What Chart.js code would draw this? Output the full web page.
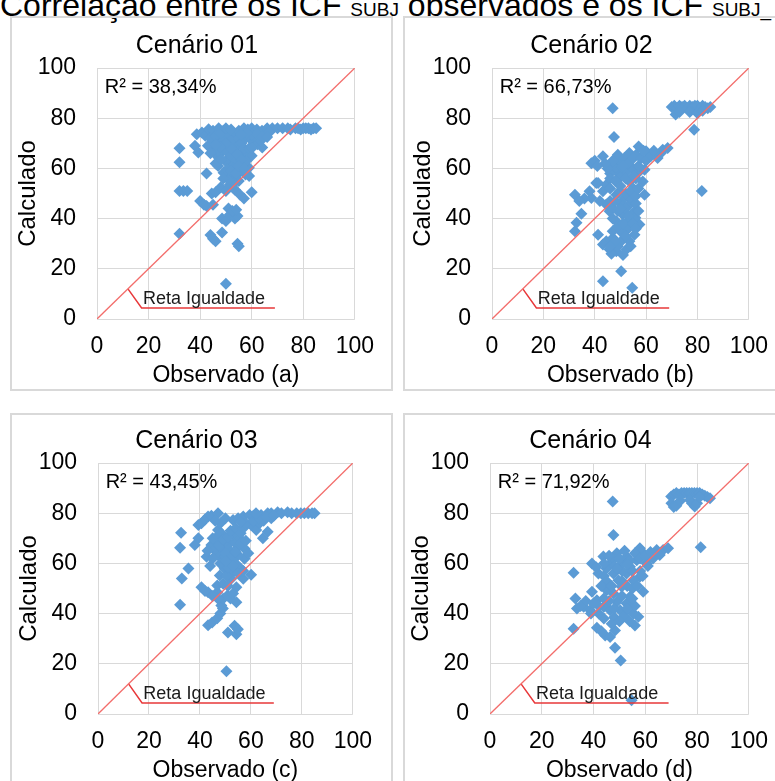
<!DOCTYPE html>
<html><head><meta charset="utf-8">
<script src="https://cdn.jsdelivr.net/npm/chart.js@4/dist/chart.umd.min.js"></script>
<style>
html,body{margin:0;padding:0;background:#fff;overflow:hidden;width:775px;height:781px;}
body{position:relative;font-family:"Liberation Sans",Arial,sans-serif;}
#title{position:absolute;left:0;top:-11px;font-size:32px;line-height:32px;white-space:pre;color:#000;}
#title .sub{font-size:19px;line-height:1;}
.box{position:absolute;border:2px solid #d9d9d9;box-sizing:border-box;}
canvas{position:absolute;}
</style></head><body>
<div id="title">Correlação entre os ICF <span class="sub">SUBJ</span> observados e os ICF <span class="sub">SUBJ_</span></div>
<div class="box" style="left:10px;top:16px;width:383px;height:375px;"></div>
<div class="box" style="left:403px;top:16px;width:390px;height:375px;"></div>
<div class="box" style="left:10px;top:413px;width:383px;height:400px;"></div>
<div class="box" style="left:403px;top:413px;width:390px;height:400px;"></div>
<script>
// ---- data (Observado, Calculado) ----
const tickLabels = ['0','20','40','60','80','100'];
const titles = ['Cenário 01','Cenário 02','Cenário 03','Cenário 04'];
const xTitles = ['Observado (a)','Observado (b)','Observado (c)','Observado (d)'];
const r2Labels = ['R² = 38,34%','R² = 66,73%','R² = 43,45%','R² = 71,92%'];
const equalityLine = [[0,0],[100,100]];
const labelLeader = [[12,12],[17.3,4.4],[69,4.4]];
const labelText = 'Reta Igualdade';
const labelPos = [17.8,6];
const r2Pos = [3,90];

const cenario1 = [[50,14],[32,34],[54.5,30],[55,29],[44,33.5],[45,32],[46,31],[48.5,34.5],[48.5,40],[50,39],[51.5,41.5],[53.5,40],[54.5,41],[51,44],[52.5,43],[54,43.5],[32,51],[33.5,51],[35,51],[40,47],[41.5,45.5],[42.5,45],[45,45.5],[44.5,50],[46,50.5],[48,52.5],[50,51],[51.5,53.5],[53,52],[53.5,51.5],[55.5,49.5],[57,48],[60,50.5],[32,68],[32,62.5],[42.5,58],[38,69],[39.3,66.3],[38.7,73.6],[40.7,74.3],[42,73],[43.3,75.6],[45,75],[47.2,76],[49,75],[50.5,74],[53,73.5],[55,75],[57,76],[58.5,75.5],[60,76],[62,75.5],[64,75],[66,76],[68,76],[70,76],[72,76],[74,76],[75,75.5],[77,76],[78,76],[79,75.5],[80,76],[81,76],[82,76],[83,75.5],[84,76],[85,76],[65.5,74],[67,74.5],[44.6,68.3],[47.2,70.3],[49.8,72.3],[51.7,69.6],[53.7,68.3],[55.6,65.6],[57.6,63.6],[58.9,60.3],[57.6,57.6],[55,58.3],[52.4,61.6],[49.8,62.9],[47.2,64.3],[45.9,65.6],[50.4,59.6],[51.7,57.6],[53.7,56.9],[49.1,58.3],[46,67],[48,66],[50,67],[52,65],[54,63],[56,61],[48,71],[45,71],[43,69],[47,61],[53,60],[55,55],[56.5,59],[58,66],[54,71],[51.5,73],[60.2,70.9],[62.2,69.6],[64.1,68.3],[62.8,72.3],[58.9,72.9],[57.9,72.3],[61,73],[63.5,71],[44,72],[46,73],[48,74],[52,71],[55,72],[56,70],[57,68],[59,68],[60,65],[58,63],[56,63.5],[54,66],[52,68],[50,70],[48,68.5],[46,69.5],[44,66],[46,62],[48,63.5],[52,59],[54,58],[55,61],[57,60],[59,57],[53,54],[51,55.5],[49,56],[60,73.5],[62,74],[64,72.5],[66,72.5],[60,68],[58,74],[56,73.5],[50,76],[52,75.5]];

const cenario2 = [[47,84],[47.5,72.5],[70,84.5],[71,85],[72,84],[73,85],[74,84.5],[75,85],[76,84],[77,85],[78,84.5],[79,85],[80,85],[81,84],[82,85],[83,84.5],[84,84],[85,84.5],[71.5,81.5],[73,82.5],[77,82.5],[80,82],[82,83],[78.7,75.4],[81.7,51],[50.3,19],[43.2,15],[54.6,12.5],[45.8,27.7],[48.4,27],[52.3,27.7],[44.5,31],[47.1,32.3],[50.3,31],[53.5,31],[55.5,33.6],[41.3,33.6],[43.2,29.7],[46.5,26],[49,29],[32.3,35],[32.9,38.3],[34.8,41.9],[32.3,49.5],[38.7,48.2],[38,50.9],[40.6,54.2],[43.2,50.9],[38.7,62.1],[43.2,64.8],[40,63],[44.5,45.6],[45.8,42.9],[48.4,49.5],[49.7,50.9],[51.6,48.2],[53.5,45.6],[55.5,42.9],[57.4,37.6],[55.8,40.3],[50.9,41.6],[48.4,38.9],[52.9,38.9],[59.4,49.5],[58.7,54.8],[47,44],[50,46],[52,44],[54,48],[56,46],[57,43],[53,36],[50,35],[47,40],[49,43],[47.1,61.5],[49.7,62.8],[48.4,58.8],[50.3,56.8],[52.3,58.8],[54.8,60.1],[57.4,58.8],[59.4,59.5],[53.5,54.8],[49,65.4],[53.5,66.1],[57.1,68.7],[61.3,64.8],[64.5,64.1],[66.5,67.4],[68.4,68.1],[65.8,66.1],[63.2,66.1],[60,66.8],[56.1,65.4],[51.6,64.1],[48,60],[50.5,60.5],[46,58],[56,56],[55,52],[41.3,54.2],[44.5,53.5],[46,56],[42,47],[47,35],[49,37],[51,38],[53,41],[55,38],[56,36],[52,33],[48,31],[46,29],[54,29],[51,25.5],[46,47],[48,47],[50,44],[52,50],[54,51],[56,49],[57,52],[46,52],[48,55],[50,53],[52,56],[55,57],[57,61],[53,62],[51,61],[47,63],[45,60],[55,64],[58,64],[60,63],[62,65],[63,67],[59,67],[44,62],[41,61],[36,48],[34,47]];

const cenario3 = [[50.4,17],[32.2,43.5],[32.9,54],[35.5,58],[32.2,66.2],[32.6,72.2],[43.2,35.4],[44.8,36.5],[46.8,38.1],[51,32.5],[54.3,31.8],[53.6,35.2],[54.9,33.8],[48,40],[49,42],[48.4,43.2],[49.1,45.9],[40.6,50.5],[43.2,48.5],[46.8,48.5],[50.8,47.2],[54.3,44.5],[54.3,50.5],[60.1,55.5],[57,53.9],[46.8,51.2],[42,49],[52,46],[47.8,55.2],[49.7,57.9],[51.7,60.6],[53,56.6],[49.1,51.9],[52.3,53.9],[50.5,55],[51,58.5],[38,67.3],[39.4,70],[42.6,62.6],[44.5,67.3],[46.5,68.6],[48.4,65.9],[51,67.3],[53.6,68.6],[55.6,70],[57.5,65.9],[57.5,61.9],[55,63.3],[52.3,64.6],[47.1,63.3],[49.7,62.6],[45.5,65.5],[47.5,67],[50,69],[53,71.5],[55,66.5],[54,60],[56,58],[39.4,75.3],[40.6,76],[42,77.5],[43.2,78.7],[44.5,79],[47.1,80],[53,77.3],[55,78],[57,78.7],[59.5,79.3],[61,79],[64,79.3],[66.6,80],[68,80],[70.5,80.4],[72,80],[74.4,80.4],[76,80],[78,80],[79.6,80],[81,80],[82.5,80],[84,80],[85,80],[60.1,75.3],[62.1,73.3],[64.7,70],[66.6,72.6],[63.4,76],[47.1,73.3],[48.4,72],[65,77],[68,78],[45,70],[47,71],[49,69.5],[51,70.5],[52,73],[54,74],[56,72],[57,74],[58,76],[56,76.5],[50,64],[52,62],[54,64.5],[56,68],[58,69],[59,64],[45,62],[43,65],[44,59],[48,60],[50,61],[53,59],[55,56],[57,57],[51,51],[53,48],[47,46],[45,47],[61,77],[63,78],[62,80],[66,78.5],[69,79],[48,76],[50,78],[46,77]];

const cenario4 = [[47.4,84.7],[47.7,71.3],[70,86.7],[71,87.5],[72,88],[73,87.5],[74,88],[75,88],[76,88],[77,88],[78,88],[79,88],[80,88],[81,88],[82,87.5],[83,87],[84,86.5],[85,86],[70.1,84],[71,82.5],[72,83],[73.5,85],[77.2,85.3],[78,84],[79.1,82.7],[80,84],[81,86.5],[81.4,66.4],[54.7,5.5],[50.5,21.3],[48.3,26.4],[32.3,34],[41.3,34.4],[44.5,31.3],[46.4,30.7],[48.3,33.3],[56,35.3],[57.3,38.7],[55.4,40],[43,33],[33,46],[33.6,42],[36.2,42.7],[38.7,41.3],[41.3,45.3],[39.4,48.7],[44,42.7],[46.4,41.3],[50.3,41.3],[49,44.7],[52.8,44],[54.1,46.7],[59.2,48.7],[47.7,48],[45.1,49.3],[50.9,50.7],[37,45],[42,43],[48,38.5],[52,39],[56,43],[32.3,56.3],[39.4,60],[41.9,56],[43.8,62.7],[46.4,60],[49,64],[51.5,61.3],[54.1,58.7],[56.7,61.3],[59.2,64],[60.5,60],[57.9,54.7],[52.8,56],[47.7,56],[49.6,53.3],[55.4,53.3],[61.8,62.7],[64.4,65.3],[66.9,65.3],[68.8,66],[65.6,63.3],[63,62],[57.9,66],[45,58],[48,62],[50,59],[53,62.5],[44,55],[41,58.5],[44,60],[46,63],[48,59],[50,62],[52,65],[54,61],[56,64],[58,62],[60,63],[62,64.5],[53,59.5],[55,57],[51,57],[49,58],[45,53],[43,51],[47,51],[51,53],[53,51],[55,50],[57,51],[59,55],[46,45],[48,42],[51,47],[53,42],[55,46],[44,46],[40,44],[35,43],[58,57],[61,59],[44,38],[47,36],[50,37],[54,37],[42,40],[39,40]];

const series = [cenario1, cenario2, cenario3, cenario4];

// ---- layout (page positions of plot areas) ----
const layoutBoxes = [
  {left:97, top:68, w:259, h:251, r:32},
  {left:492, top:68, w:260, h:251, r:30},
  {left:98, top:463, w:257, h:251, r:31},
  {left:490, top:463, w:261, h:251, r:31}
];
const FONT = '"Liberation Sans", Arial, sans-serif';
const L = 90, T = 60, B = 75;

const annot = {
  id: 'annot',
  afterDatasetsDraw(chart, args, opts) {
    const {ctx, chartArea} = chart; const x = chart.scales.x, y = chart.scales.y;
    ctx.save();
    ctx.fillStyle = '#000';
    ctx.textAlign = 'center'; ctx.textBaseline = 'middle';
    ctx.font = '25px ' + FONT;
    ctx.fillText(opts.title, (chartArea.left + chartArea.right) / 2 - 29, chartArea.top - 22);
    ctx.textAlign = 'left'; ctx.textBaseline = 'alphabetic';
    ctx.font = '20px ' + FONT;
    ctx.fillText(opts.r2, x.getPixelForValue(r2Pos[0]), y.getPixelForValue(r2Pos[1]));
    ctx.fillStyle = '#1a1a1a';
    ctx.font = '18px ' + FONT;
    ctx.fillText(labelText, x.getPixelForValue(labelPos[0]), y.getPixelForValue(labelPos[1]));
    ctx.restore();
  }
};

layoutBoxes.forEach((g, i) => {
  const cv = document.createElement('canvas');
  const W = L + g.w + g.r, H = T + g.h + B;
  cv.width = W; cv.height = H;
  cv.style.left = (g.left - L) + 'px'; cv.style.top = (g.top - T) + 'px';
  cv.style.width = W + 'px'; cv.style.height = H + 'px';
  document.body.appendChild(cv);
  const toXY = a => a.map(p => ({x: p[0], y: p[1]}));
  new Chart(cv, {
    type: 'scatter',
    data: {datasets: [
      {data: toXY(equalityLine), showLine: true, borderColor: '#f36d6b', borderWidth: 1.3, pointRadius: 0, order: 1},
      {data: toXY(labelLeader), showLine: true, borderColor: '#e8383a', borderWidth: 1.5, pointRadius: 0, order: 1},
      {data: toXY(series[i]), pointStyle: 'rectRot', pointRadius: 6, backgroundColor: '#5b9bd5', borderColor: '#5b9bd5', borderWidth: 0, order: 2}
    ]},
    options: {
      responsive: false, animation: false, events: [],
      layout: {padding: {left: 0, top: T, right: g.r, bottom: 0}},
      plugins: {
        legend: {display: false}, tooltip: {enabled: false}, title: {display: false},
        annot: {r2: r2Labels[i], title: titles[i]}
      },
      scales: {
        x: {type: 'linear', min: 0, max: 100,
          ticks: {stepSize: 20, padding: 14, color: '#000', font: {family: FONT, size: 23}, maxRotation: 0, autoSkip: false, callback: (v) => tickLabels[Math.round(v / 20)]},
          grid: {color: '#d9d9d9', drawTicks: false, lineWidth: 1}, border: {display: false},
          title: {display: true, text: xTitles[i], color: '#000', font: {family: FONT, size: 23, lineHeight: 1.2}, padding: {top: 0, bottom: 5}},
          afterFit(s) { s.height = B; }
        },
        y: {type: 'linear', min: 0, max: 100,
          ticks: {stepSize: 20, padding: 21, color: '#000', font: {family: FONT, size: 23}, autoSkip: false, callback: (v) => tickLabels[Math.round(v / 20)]},
          grid: {color: '#d9d9d9', drawTicks: false, lineWidth: 1}, border: {display: false},
          title: {display: true, text: 'Calculado', color: '#000', font: {family: FONT, size: 24, lineHeight: 1.2}, padding: {top: 7, bottom: 0}},
          afterFit(s) { s.width = L; }
        }
      }
    },
    plugins: [annot]
  });
});
</script>
</body></html>
